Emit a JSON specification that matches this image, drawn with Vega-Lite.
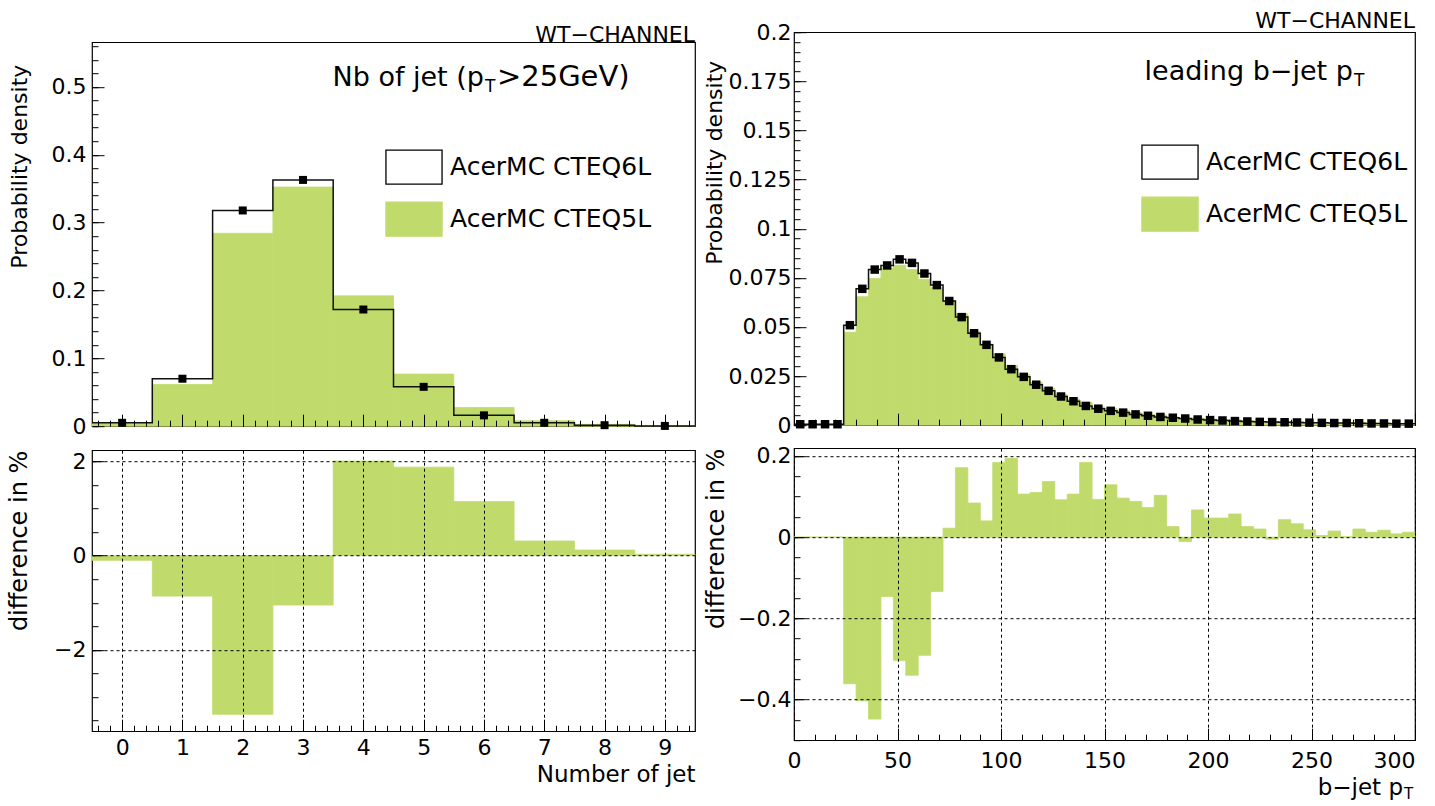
{
  "$schema": "https://vega.github.io/schema/vega-lite/v6.json",
  "padding": {"left": 6, "top": 9, "right": 5, "bottom": 0},
  "config": {
    "font": "DejaVu Sans",
    "view": {"stroke": "#000", "strokeWidth": 1.2},
    "axis": {
      "domain": false, "grid": false,
      "tickColor": "#000", "tickWidth": 1,
      "labelColor": "#000", "titleColor": "#000",
      "labelFont": "DejaVu Sans", "titleFont": "DejaVu Sans",
      "labelFontSize": 22, "titleFontSize": 23, "titleFontWeight": "normal",
      "labelFlush": false, "labelOverlap": false, "labelBound": false,
      "gridColor": "#000", "gridDash": [3, 3], "gridOpacity": 1, "gridWidth": 1
    },
    "text": {"font": "DejaVu Sans", "color": "#000"}
  },
  "datasets": {
    "njet": [
      {"n": 0, "lo": -0.5, "hi": 0.5, "cteq6l": 0.005, "cteq5l": 0.004, "diff": -0.10},
      {"n": 1, "lo": 0.5, "hi": 1.5, "cteq6l": 0.070, "cteq5l": 0.0614, "diff": -0.86},
      {"n": 2, "lo": 1.5, "hi": 2.5, "cteq6l": 0.318, "cteq5l": 0.2843, "diff": -3.37},
      {"n": 3, "lo": 2.5, "hi": 3.5, "cteq6l": 0.363, "cteq5l": 0.3525, "diff": -1.05},
      {"n": 4, "lo": 3.5, "hi": 4.5, "cteq6l": 0.172, "cteq5l": 0.1921, "diff": 2.01},
      {"n": 5, "lo": 4.5, "hi": 5.5, "cteq6l": 0.058, "cteq5l": 0.0768, "diff": 1.88},
      {"n": 6, "lo": 5.5, "hi": 6.5, "cteq6l": 0.016, "cteq5l": 0.0275, "diff": 1.15},
      {"n": 7, "lo": 6.5, "hi": 7.5, "cteq6l": 0.005, "cteq5l": 0.0081, "diff": 0.31},
      {"n": 8, "lo": 7.5, "hi": 8.5, "cteq6l": 0.0015, "cteq5l": 0.0027, "diff": 0.12},
      {"n": 9, "lo": 8.5, "hi": 9.5, "cteq6l": 0.0004, "cteq5l": 0.0007, "diff": 0.03}
    ],
    "bjet": [
      {"pt": 3, "lo": 0, "hi": 6, "cteq6l": 0.0005, "cteq5l": 0.0005, "diff": 0},
      {"pt": 9, "lo": 6, "hi": 12, "cteq6l": 0.0005, "cteq5l": 0.0005, "diff": 0},
      {"pt": 15, "lo": 12, "hi": 18, "cteq6l": 0.0005, "cteq5l": 0.0005, "diff": 0},
      {"pt": 21, "lo": 18, "hi": 24, "cteq6l": 0.0005, "cteq5l": 0.0005, "diff": 0},
      {"pt": 27, "lo": 24, "hi": 30, "cteq6l": 0.0509, "cteq5l": 0.0473, "diff": -0.361},
      {"pt": 33, "lo": 30, "hi": 36, "cteq6l": 0.0694, "cteq5l": 0.0654, "diff": -0.403},
      {"pt": 39, "lo": 36, "hi": 42, "cteq6l": 0.0792, "cteq5l": 0.0747, "diff": -0.448},
      {"pt": 45, "lo": 42, "hi": 48, "cteq6l": 0.0813, "cteq5l": 0.0798, "diff": -0.146},
      {"pt": 51, "lo": 48, "hi": 54, "cteq6l": 0.0844, "cteq5l": 0.0814, "diff": -0.304},
      {"pt": 57, "lo": 54, "hi": 60, "cteq6l": 0.0826, "cteq5l": 0.0792, "diff": -0.340},
      {"pt": 63, "lo": 60, "hi": 66, "cteq6l": 0.0772, "cteq5l": 0.0743, "diff": -0.291},
      {"pt": 69, "lo": 66, "hi": 72, "cteq6l": 0.0713, "cteq5l": 0.0700, "diff": -0.134},
      {"pt": 75, "lo": 72, "hi": 78, "cteq6l": 0.0632, "cteq5l": 0.0634, "diff": 0.022},
      {"pt": 81, "lo": 78, "hi": 84, "cteq6l": 0.0550, "cteq5l": 0.0567, "diff": 0.171},
      {"pt": 87, "lo": 84, "hi": 90, "cteq6l": 0.0468, "cteq5l": 0.0476, "diff": 0.084},
      {"pt": 93, "lo": 90, "hi": 96, "cteq6l": 0.0409, "cteq5l": 0.0413, "diff": 0.040},
      {"pt": 99, "lo": 96, "hi": 102, "cteq6l": 0.0345, "cteq5l": 0.0363, "diff": 0.184},
      {"pt": 105, "lo": 102, "hi": 108, "cteq6l": 0.0285, "cteq5l": 0.0304, "diff": 0.194},
      {"pt": 111, "lo": 108, "hi": 114, "cteq6l": 0.0246, "cteq5l": 0.0257, "diff": 0.106},
      {"pt": 117, "lo": 114, "hi": 120, "cteq6l": 0.0206, "cteq5l": 0.0217, "diff": 0.110},
      {"pt": 123, "lo": 120, "hi": 126, "cteq6l": 0.0175, "cteq5l": 0.0189, "diff": 0.137},
      {"pt": 129, "lo": 126, "hi": 132, "cteq6l": 0.0146, "cteq5l": 0.0155, "diff": 0.092},
      {"pt": 135, "lo": 132, "hi": 138, "cteq6l": 0.0122, "cteq5l": 0.0133, "diff": 0.106},
      {"pt": 141, "lo": 138, "hi": 144, "cteq6l": 0.0098, "cteq5l": 0.0116, "diff": 0.184},
      {"pt": 147, "lo": 144, "hi": 150, "cteq6l": 0.0084, "cteq5l": 0.0093, "diff": 0.093},
      {"pt": 153, "lo": 150, "hi": 156, "cteq6l": 0.0073, "cteq5l": 0.0086, "diff": 0.129},
      {"pt": 159, "lo": 156, "hi": 162, "cteq6l": 0.0064, "cteq5l": 0.0074, "diff": 0.096},
      {"pt": 165, "lo": 162, "hi": 168, "cteq6l": 0.0055, "cteq5l": 0.0064, "diff": 0.088},
      {"pt": 171, "lo": 168, "hi": 174, "cteq6l": 0.0048, "cteq5l": 0.0055, "diff": 0.073},
      {"pt": 177, "lo": 174, "hi": 180, "cteq6l": 0.0042, "cteq5l": 0.0052, "diff": 0.103},
      {"pt": 183, "lo": 180, "hi": 186, "cteq6l": 0.0038, "cteq5l": 0.0041, "diff": 0.026},
      {"pt": 189, "lo": 186, "hi": 192, "cteq6l": 0.0034, "cteq5l": 0.0033, "diff": -0.011},
      {"pt": 195, "lo": 192, "hi": 198, "cteq6l": 0.0029, "cteq5l": 0.0036, "diff": 0.067},
      {"pt": 201, "lo": 198, "hi": 204, "cteq6l": 0.0026, "cteq5l": 0.0031, "diff": 0.047},
      {"pt": 207, "lo": 204, "hi": 210, "cteq6l": 0.0024, "cteq5l": 0.0029, "diff": 0.047},
      {"pt": 213, "lo": 210, "hi": 216, "cteq6l": 0.0021, "cteq5l": 0.0027, "diff": 0.057},
      {"pt": 219, "lo": 216, "hi": 222, "cteq6l": 0.0019, "cteq5l": 0.0022, "diff": 0.026},
      {"pt": 225, "lo": 222, "hi": 228, "cteq6l": 0.0017, "cteq5l": 0.0019, "diff": 0.020},
      {"pt": 231, "lo": 228, "hi": 234, "cteq6l": 0.0016, "cteq5l": 0.00155, "diff": -0.005},
      {"pt": 237, "lo": 234, "hi": 240, "cteq6l": 0.0015, "cteq5l": 0.0019, "diff": 0.043},
      {"pt": 243, "lo": 240, "hi": 246, "cteq6l": 0.0014, "cteq5l": 0.0017, "diff": 0.033},
      {"pt": 249, "lo": 246, "hi": 252, "cteq6l": 0.0013, "cteq5l": 0.0015, "diff": 0.018},
      {"pt": 255, "lo": 252, "hi": 258, "cteq6l": 0.0012, "cteq5l": 0.0012, "diff": 0.004},
      {"pt": 261, "lo": 258, "hi": 264, "cteq6l": 0.0011, "cteq5l": 0.0013, "diff": 0.015},
      {"pt": 267, "lo": 264, "hi": 270, "cteq6l": 0.0011, "cteq5l": 0.0011, "diff": 0.001},
      {"pt": 273, "lo": 270, "hi": 276, "cteq6l": 0.0010, "cteq5l": 0.0012, "diff": 0.020},
      {"pt": 279, "lo": 276, "hi": 282, "cteq6l": 0.0009, "cteq5l": 0.0010, "diff": 0.012},
      {"pt": 285, "lo": 282, "hi": 288, "cteq6l": 0.0009, "cteq5l": 0.0011, "diff": 0.017},
      {"pt": 291, "lo": 288, "hi": 294, "cteq6l": 0.0008, "cteq5l": 0.0009, "diff": 0.008},
      {"pt": 297, "lo": 294, "hi": 300, "cteq6l": 0.0008, "cteq5l": 0.0009, "diff": 0.012}
    ]
  },
  "hconcat": [
    {
      "spacing": 24,
      "bounds": "flush",
      "resolve": {"scale": {"fill": "independent", "stroke": "independent"}, "legend": {"fill": "independent", "stroke": "independent"}},
      "vconcat": [
        {
          "width": 603,
          "height": 384,
          "data": {"name": "njet"},
          "layer": [
            {
              "mark": {"type": "rect", "strokeWidth": 0.8},
              "encoding": {
                "x": {"field": "lo", "type": "quantitative",
                  "scale": {"domain": [-0.5, 9.5], "nice": false, "zero": false},
                  "axis": {"values": [0, 1, 2, 3, 4, 5, 6, 7, 8, 9], "labels": false, "tickSize": -12, "title": null, "zindex": 1}},
                "x2": {"field": "hi"},
                "y": {"field": "cteq5l", "type": "quantitative",
                  "scale": {"domain": [0, 0.566], "nice": false, "zero": false},
                  "axis": {"values": [0, 0.1, 0.2, 0.3, 0.4, 0.5], "tickSize": -12, "labelPadding": 18, "format": ".2~g",
                    "title": "Probability density", "titleFontSize": 22, "titleAnchor": "end", "titleY": 22,
                    "titlePadding": 21, "minExtent": 40, "maxExtent": 40, "zindex": 1}},
                "y2": {"datum": 0},
                "fill": {"datum": "AcerMC CTEQ5L", "type": "nominal",
                  "scale": {"domain": ["AcerMC CTEQ6L", "AcerMC CTEQ5L"], "range": ["#ffffff", "#c0db6c"]},
                  "legend": {"orient": "none", "legendX": 304, "legendY": 107, "title": null,
                    "symbolType": "M-1.65,-1H1.65V1H-1.65Z", "symbolSize": 1156, "symbolOpacity": 1,
                    "symbolStrokeWidth": 1.3, "labelFontSize": 25, "labelFont": "DejaVu Sans", "labelColor": "#000",
                    "labelOffset": 18, "labelLimit": 500, "rowPadding": 12, "padding": 0}},
                "stroke": {"datum": "AcerMC CTEQ5L", "type": "nominal",
                  "scale": {"domain": ["AcerMC CTEQ6L", "AcerMC CTEQ5L"], "range": ["#000000", "#c0db6c"]}}
              }
            },
            {
              "transform": [{"fold": ["lo", "hi"], "as": ["side", "edge"]}],
              "mark": {"type": "line", "stroke": "#111", "strokeWidth": 1.5},
              "encoding": {
                "x": {"field": "edge", "type": "quantitative",
                  "scale": {"domain": [-0.5, 9.5], "nice": false, "zero": false},
                  "axis": {"orient": "bottom", "values": [-0.4, -0.2, 0, 0.2, 0.4, 0.6, 0.8, 1, 1.2, 1.4, 1.6, 1.8, 2, 2.2, 2.4, 2.6, 2.8, 3, 3.2, 3.4, 3.6, 3.8, 4, 4.2, 4.4, 4.6, 4.8, 5, 5.2, 5.4, 5.6, 5.8, 6, 6.2, 6.4, 6.6, 6.8, 7, 7.2, 7.4, 7.6, 7.8, 8, 8.2, 8.4, 8.6, 8.8, 9, 9.2, 9.4],
                    "labels": false, "tickSize": -6, "title": null, "zindex": 1}},
                "y": {"field": "cteq6l", "type": "quantitative",
                  "scale": {"domain": [0, 0.566], "nice": false, "zero": false},
                  "axis": {"orient": "left", "values": [0, 0.02, 0.04, 0.06, 0.08, 0.1, 0.12, 0.14, 0.16, 0.18, 0.2, 0.22, 0.24, 0.26, 0.28, 0.3, 0.32, 0.34, 0.36, 0.38, 0.4, 0.42, 0.44, 0.46, 0.48, 0.5, 0.52, 0.54, 0.56],
                    "labels": false, "tickSize": -6, "title": null, "zindex": 1}},
                "order": [{"field": "edge", "type": "quantitative"}, {"field": "side", "type": "nominal"}]
              }
            },
            {
              "mark": {"type": "point", "shape": "square", "filled": true, "color": "#000", "opacity": 1, "size": 64},
              "encoding": {
                "x": {"field": "n", "type": "quantitative", "scale": {"domain": [-0.5, 9.5], "nice": false, "zero": false}, "axis": null},
                "y": {"field": "cteq6l", "type": "quantitative", "scale": {"domain": [0, 0.566], "nice": false, "zero": false}, "axis": null}
              }
            },
            {
              "data": {"values": [{}]},
              "mark": {"type": "text", "text": "WT−CHANNEL", "align": "right", "baseline": "alphabetic", "fontSize": 22, "dy": 0},
              "encoding": {
                "x": {"datum": 9.5, "type": "quantitative", "scale": {"domain": [-0.5, 9.5], "nice": false, "zero": false}, "axis": null},
                "y": {"datum": 0.566, "type": "quantitative", "scale": {"domain": [0, 0.566], "nice": false, "zero": false}, "axis": null}
              }
            },
            {
              "data": {"values": [{}]},
              "mark": {"type": "text", "text": "Nb of jet (p", "align": "right", "baseline": "alphabetic", "fontSize": 27},
              "encoding": {
                "x": {"datum": 6.0, "type": "quantitative", "scale": {"domain": [-0.5, 9.5], "nice": false, "zero": false}, "axis": null},
                "y": {"datum": 0.501, "type": "quantitative", "scale": {"domain": [0, 0.566], "nice": false, "zero": false}, "axis": null}
              }
            },
            {
              "data": {"values": [{}]},
              "mark": {"type": "text", "text": "T", "align": "left", "baseline": "alphabetic", "fontSize": 17, "dx": 1, "dy": 6},
              "encoding": {
                "x": {"datum": 6.0, "type": "quantitative", "scale": {"domain": [-0.5, 9.5], "nice": false, "zero": false}, "axis": null},
                "y": {"datum": 0.501, "type": "quantitative", "scale": {"domain": [0, 0.566], "nice": false, "zero": false}, "axis": null}
              }
            },
            {
              "data": {"values": [{}]},
              "mark": {"type": "text", "text": ">25GeV)", "align": "left", "baseline": "alphabetic", "fontSize": 29, "dx": 13},
              "encoding": {
                "x": {"datum": 6.0, "type": "quantitative", "scale": {"domain": [-0.5, 9.5], "nice": false, "zero": false}, "axis": null},
                "y": {"datum": 0.501, "type": "quantitative", "scale": {"domain": [0, 0.566], "nice": false, "zero": false}, "axis": null}
              }
            }
          ],
          "resolve": {"axis": {"x": "independent", "y": "independent"}}
        },
        {
          "width": 603,
          "height": 281,
          "data": {"name": "njet"},
          "layer": [
            {
              "mark": {"type": "rect", "fill": "#c0db6c", "stroke": "#c0db6c", "strokeWidth": 0.8},
              "encoding": {
                "x": {"field": "lo", "type": "quantitative",
                  "scale": {"domain": [-0.5, 9.5], "nice": false, "zero": false},
                  "axis": {"values": [0, 1, 2, 3, 4, 5, 6, 7, 8, 9], "tickSize": -12, "labelPadding": 18, "grid": true,
                    "title": "Number of jet", "titleAnchor": "end", "titlePadding": -29, "minExtent": 61, "maxExtent": 61, "zindex": 1}},
                "x2": {"field": "hi"},
                "y": {"field": "diff", "type": "quantitative",
                  "scale": {"domain": [-3.73, 2.24], "nice": false, "zero": false},
                  "axis": {"values": [-2, 0, 2], "tickSize": -12, "labelPadding": 18, "grid": true, "format": ".2~g",
                    "title": "difference in %", "titleFontSize": 24, "titleAnchor": "end", "titleY": 0,
                    "titlePadding": 21, "minExtent": 40, "maxExtent": 40, "zindex": 1}},
                "y2": {"datum": 0}
              }
            },
            {
              "mark": {"type": "point", "opacity": 0},
              "encoding": {
                "x": {"field": "lo", "type": "quantitative",
                  "scale": {"domain": [-0.5, 9.5], "nice": false, "zero": false},
                  "axis": {"orient": "bottom", "values": [-0.4, -0.2, 0, 0.2, 0.4, 0.6, 0.8, 1, 1.2, 1.4, 1.6, 1.8, 2, 2.2, 2.4, 2.6, 2.8, 3, 3.2, 3.4, 3.6, 3.8, 4, 4.2, 4.4, 4.6, 4.8, 5, 5.2, 5.4, 5.6, 5.8, 6, 6.2, 6.4, 6.6, 6.8, 7, 7.2, 7.4, 7.6, 7.8, 8, 8.2, 8.4, 8.6, 8.8, 9, 9.2, 9.4],
                    "labels": false, "tickSize": -6, "title": null, "zindex": 1}},
                "y": {"field": "diff", "type": "quantitative",
                  "scale": {"domain": [-3.73, 2.24], "nice": false, "zero": false},
                  "axis": {"orient": "left", "values": [-3.5, -3, -2.5, -2, -1.5, -1, -0.5, 0, 0.5, 1, 1.5, 2],
                    "labels": false, "tickSize": -6, "title": null, "zindex": 1}}
              }
            }
          ],
          "resolve": {"axis": {"x": "independent", "y": "independent"}}
        }
      ]
    },
    {
      "spacing": 23,
      "bounds": "flush",
      "resolve": {"scale": {"fill": "independent", "stroke": "independent"}, "legend": {"fill": "independent", "stroke": "independent"}},
      "vconcat": [
        {
          "width": 621,
          "height": 393,
          "data": {"name": "bjet"},
          "layer": [
            {
              "mark": {"type": "rect", "strokeWidth": 0.8},
              "encoding": {
                "x": {"field": "lo", "type": "quantitative",
                  "scale": {"domain": [0, 300], "nice": false, "zero": false},
                  "axis": {"values": [0, 50, 100, 150, 200, 250, 300], "labels": false, "tickSize": -12, "title": null, "zindex": 1}},
                "x2": {"field": "hi"},
                "y": {"field": "cteq5l", "type": "quantitative",
                  "scale": {"domain": [0, 0.2], "nice": false, "zero": false},
                  "axis": {"values": [0, 0.025, 0.05, 0.075, 0.1, 0.125, 0.15, 0.175, 0.2], "tickSize": -12, "labelPadding": 15, "format": ".3~g",
                    "title": "Probability density", "titleFontSize": 22, "titleAnchor": "end", "titleY": 28,
                    "titlePadding": 28, "minExtent": 40, "maxExtent": 40, "zindex": 1}},
                "y2": {"datum": 0},
                "fill": {"datum": "AcerMC CTEQ5L", "type": "nominal",
                  "scale": {"domain": ["AcerMC CTEQ6L", "AcerMC CTEQ5L"], "range": ["#ffffff", "#c0db6c"]},
                  "legend": {"orient": "none", "legendX": 358, "legendY": 112, "title": null,
                    "symbolType": "M-1.65,-1H1.65V1H-1.65Z", "symbolSize": 1156, "symbolOpacity": 1,
                    "symbolStrokeWidth": 1.3, "labelFontSize": 25, "labelFont": "DejaVu Sans", "labelColor": "#000",
                    "labelOffset": 18, "labelLimit": 500, "rowPadding": 12, "padding": 0}},
                "stroke": {"datum": "AcerMC CTEQ5L", "type": "nominal",
                  "scale": {"domain": ["AcerMC CTEQ6L", "AcerMC CTEQ5L"], "range": ["#000000", "#c0db6c"]}}
              }
            },
            {
              "transform": [{"fold": ["lo", "hi"], "as": ["side", "edge"]}],
              "mark": {"type": "line", "stroke": "#111", "strokeWidth": 1.5},
              "encoding": {
                "x": {"field": "edge", "type": "quantitative",
                  "scale": {"domain": [0, 300], "nice": false, "zero": false},
                  "axis": {"orient": "bottom", "values": [0, 10, 20, 30, 40, 50, 60, 70, 80, 90, 100, 110, 120, 130, 140, 150, 160, 170, 180, 190, 200, 210, 220, 230, 240, 250, 260, 270, 280, 290, 300],
                    "labels": false, "tickSize": -6, "title": null, "zindex": 1}},
                "y": {"field": "cteq6l", "type": "quantitative",
                  "scale": {"domain": [0, 0.2], "nice": false, "zero": false},
                  "axis": {"orient": "left", "values": [0, 0.005, 0.01, 0.015, 0.02, 0.025, 0.03, 0.035, 0.04, 0.045, 0.05, 0.055, 0.06, 0.065, 0.07, 0.075, 0.08, 0.085, 0.09, 0.095, 0.1, 0.105, 0.11, 0.115, 0.12, 0.125, 0.13, 0.135, 0.14, 0.145, 0.15, 0.155, 0.16, 0.165, 0.17, 0.175, 0.18, 0.185, 0.19, 0.195, 0.2],
                    "labels": false, "tickSize": -6, "title": null, "zindex": 1}},
                "order": [{"field": "edge", "type": "quantitative"}, {"field": "side", "type": "nominal"}]
              }
            },
            {
              "mark": {"type": "point", "shape": "square", "filled": true, "color": "#000", "opacity": 1, "size": 72},
              "encoding": {
                "x": {"field": "pt", "type": "quantitative", "scale": {"domain": [0, 300], "nice": false, "zero": false}, "axis": null},
                "y": {"field": "cteq6l", "type": "quantitative", "scale": {"domain": [0, 0.2], "nice": false, "zero": false}, "axis": null}
              }
            },
            {
              "data": {"values": [{}]},
              "mark": {"type": "text", "text": "WT−CHANNEL", "align": "right", "baseline": "alphabetic", "fontSize": 22, "dy": -4},
              "encoding": {
                "x": {"datum": 300, "type": "quantitative", "scale": {"domain": [0, 300], "nice": false, "zero": false}, "axis": null},
                "y": {"datum": 0.2, "type": "quantitative", "scale": {"domain": [0, 0.2], "nice": false, "zero": false}, "axis": null}
              }
            },
            {
              "data": {"values": [{}]},
              "mark": {"type": "text", "text": "leading b−jet p", "align": "right", "baseline": "alphabetic", "fontSize": 27},
              "encoding": {
                "x": {"datum": 270, "type": "quantitative", "scale": {"domain": [0, 300], "nice": false, "zero": false}, "axis": null},
                "y": {"datum": 0.1755, "type": "quantitative", "scale": {"domain": [0, 0.2], "nice": false, "zero": false}, "axis": null}
              }
            },
            {
              "data": {"values": [{}]},
              "mark": {"type": "text", "text": "T", "align": "left", "baseline": "alphabetic", "fontSize": 17, "dx": 1, "dy": 6},
              "encoding": {
                "x": {"datum": 270, "type": "quantitative", "scale": {"domain": [0, 300], "nice": false, "zero": false}, "axis": null},
                "y": {"datum": 0.1755, "type": "quantitative", "scale": {"domain": [0, 0.2], "nice": false, "zero": false}, "axis": null}
              }
            }
          ],
          "resolve": {"axis": {"x": "independent", "y": "independent"}}
        },
        {
          "width": 621,
          "height": 292,
          "data": {"name": "bjet"},
          "layer": [
            {
              "mark": {"type": "rect", "fill": "#c0db6c", "stroke": "#c0db6c", "strokeWidth": 0.8},
              "encoding": {
                "x": {"field": "lo", "type": "quantitative",
                  "scale": {"domain": [0, 300], "nice": false, "zero": false},
                  "axis": {"values": [0, 50, 100, 150, 200, 250, 300], "tickSize": -12, "labelPadding": 22, "grid": true,
                    "labelAlign": {"condition": {"test": "datum.value === 300", "value": "right"}, "value": "center"},
                    "title": null, "zindex": 1}},
                "x2": {"field": "hi"},
                "y": {"field": "diff", "type": "quantitative",
                  "scale": {"domain": [-0.5, 0.219], "nice": false, "zero": false},
                  "axis": {"values": [-0.4, -0.2, 0, 0.2], "tickSize": -12, "labelPadding": 15, "grid": true, "format": ".2~g",
                    "title": "difference in %", "titleFontSize": 24, "titleAnchor": "end", "titleY": 0,
                    "titlePadding": 26, "minExtent": 40, "maxExtent": 40, "zindex": 1}},
                "y2": {"datum": 0}
              }
            },
            {
              "mark": {"type": "point", "opacity": 0},
              "encoding": {
                "x": {"field": "lo", "type": "quantitative",
                  "scale": {"domain": [0, 300], "nice": false, "zero": false},
                  "axis": {"orient": "bottom", "values": [0, 10, 20, 30, 40, 50, 60, 70, 80, 90, 100, 110, 120, 130, 140, 150, 160, 170, 180, 190, 200, 210, 220, 230, 240, 250, 260, 270, 280, 290, 300],
                    "labels": false, "tickSize": -6, "title": null, "zindex": 1}},
                "y": {"field": "diff", "type": "quantitative",
                  "scale": {"domain": [-0.5, 0.219], "nice": false, "zero": false},
                  "axis": {"orient": "left", "values": [-0.5, -0.45, -0.4, -0.35, -0.3, -0.25, -0.2, -0.15, -0.1, -0.05, 0, 0.05, 0.1, 0.15, 0.2],
                    "labels": false, "tickSize": -6, "title": null, "zindex": 1}}
              }
            },
            {
              "data": {"values": [{}]},
              "mark": {"type": "text", "text": "b−jet p", "align": "right", "baseline": "alphabetic", "fontSize": 23, "dx": -12, "dy": 55},
              "encoding": {
                "x": {"datum": 300, "type": "quantitative", "scale": {"domain": [0, 300], "nice": false, "zero": false}, "axis": null},
                "y": {"datum": -0.5, "type": "quantitative", "scale": {"domain": [-0.5, 0.219], "nice": false, "zero": false}, "axis": null}
              }
            },
            {
              "data": {"values": [{}]},
              "mark": {"type": "text", "text": "T", "align": "left", "baseline": "alphabetic", "fontSize": 15, "dx": -11, "dy": 59},
              "encoding": {
                "x": {"datum": 300, "type": "quantitative", "scale": {"domain": [0, 300], "nice": false, "zero": false}, "axis": null},
                "y": {"datum": -0.5, "type": "quantitative", "scale": {"domain": [-0.5, 0.219], "nice": false, "zero": false}, "axis": null}
              }
            }
          ],
          "resolve": {"axis": {"x": "independent", "y": "independent"}}
        }
      ]
    }
  ],
  "resolve": {"scale": {"fill": "independent", "stroke": "independent"}, "legend": {"fill": "independent", "stroke": "independent"}},
  "spacing": 3,
  "center": true
}
